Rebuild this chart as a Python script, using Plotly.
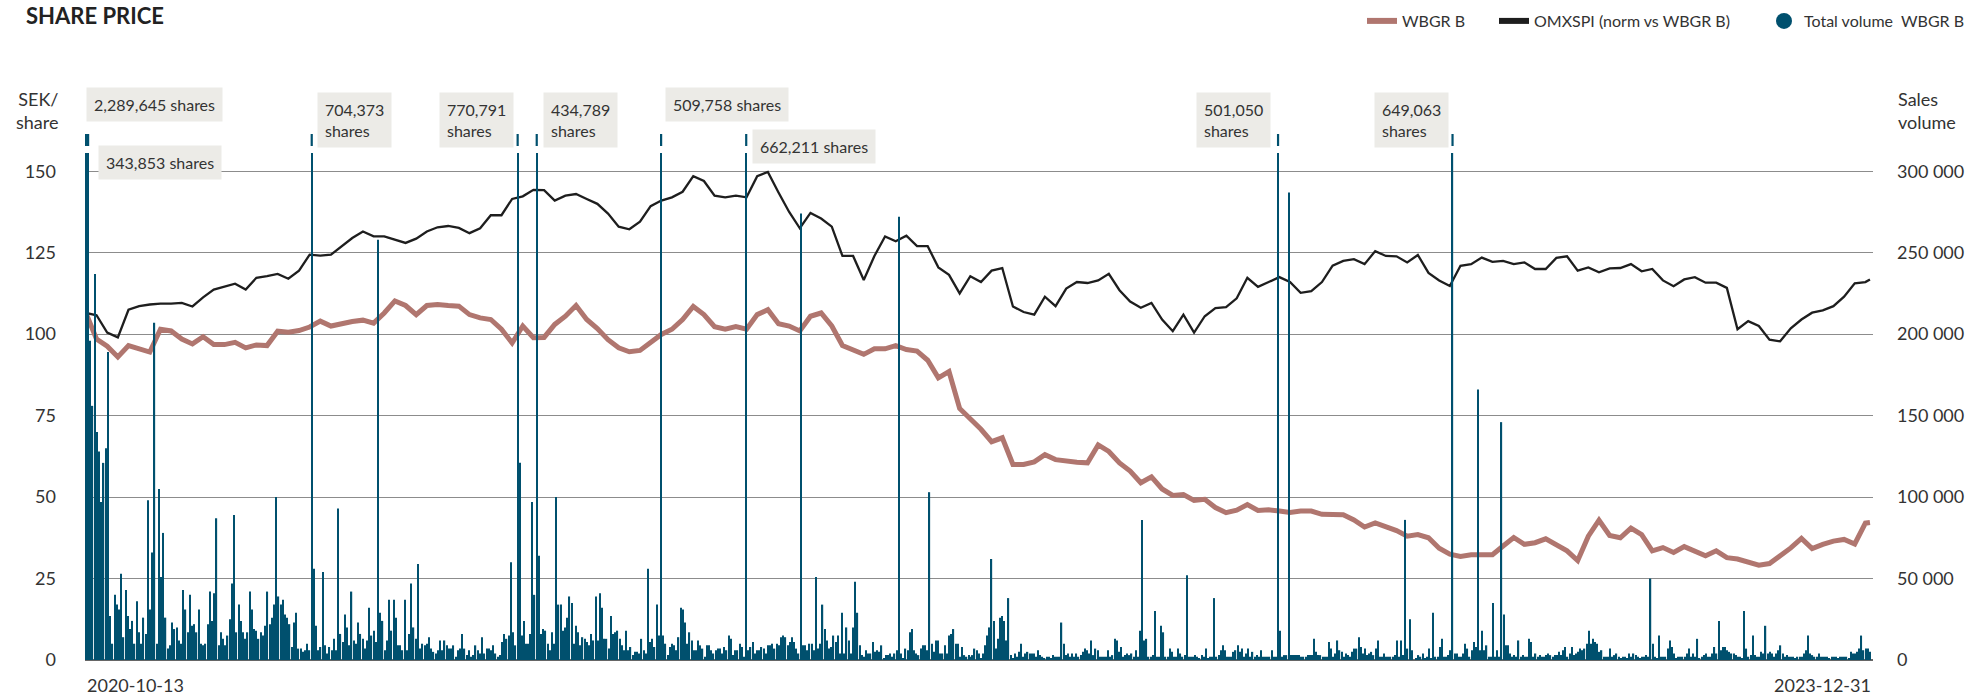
import pandas as pd
import plotly.graph_objects as go

# ------------------------------------------------------------------ data
price_first_date = "2020-10-13"
price_last_date = "2023-12-29"

# WBGR B closing price, SEK/share (weekly readings + last day)
wbgr_b = [
    106.5, 98.5, 96.3, 93.0, 96.5, 95.5, 94.5, 101.5, 101.0, 98.5,
    97.0, 99.2, 96.8, 96.8, 97.5, 95.8, 96.7, 96.5, 100.9, 100.6,
    101.1, 102.2, 104.0, 102.5, 103.3, 103.9, 104.3, 103.4, 106.5, 110.2,
    108.8, 106.0, 108.8, 109.1, 108.8, 108.6, 106.0, 105.0, 104.5, 101.5,
    97.3, 102.5, 98.9, 99.0, 103.0, 105.5, 108.8, 104.5, 101.7, 98.3,
    95.8, 94.6, 95.0, 97.5, 99.9, 101.5, 104.5, 108.5, 106.0, 102.3,
    101.5, 102.3, 101.5, 106.0, 107.5, 103.2, 102.5, 101.0, 105.5, 106.5,
    102.5, 96.5, 95.3, 93.8, 95.5, 95.5, 96.5, 95.3, 94.8, 92.0,
    86.6, 88.5, 77.2, 74.0, 70.8, 67.0, 68.2, 60.0, 60.0, 60.8,
    63.0, 61.5, 61.0, 60.7, 60.5, 66.0, 64.0, 60.5, 58.0, 54.4,
    56.2, 52.5, 50.5, 50.8, 49.0, 49.3, 46.8, 45.2, 46.0, 47.7,
    45.9, 46.1, 45.7, 45.3, 45.7, 45.7, 44.7, 44.7, 44.6, 43.0,
    40.8, 42.1, 41.0, 39.7, 38.0, 38.5, 37.5, 34.3, 32.5, 31.8,
    32.3, 32.3, 32.3, 35.0, 37.6, 35.5, 36.0, 37.2, 35.5, 33.5,
    30.5, 38.0, 42.9, 38.2, 37.5, 40.5, 38.5, 33.5, 34.5, 33.0,
    34.8, 33.5, 32.0, 33.5, 31.4, 31.0, 30.1, 29.1, 29.6, 31.8,
    34.4, 37.3, 34.2, 35.5, 36.5, 37.0, 35.6, 42.0, 42.2,
]

# OMXSPI normalised vs WBGR B
omxspi_norm = [
    106.5, 105.8, 100.5, 99.0, 107.5, 108.6, 109.1, 109.4, 109.4, 109.6,
    108.5, 111.3, 113.7, 114.7, 115.5, 113.7, 117.3, 117.8, 118.5, 117.0,
    119.5, 124.4, 124.1, 124.4, 127.0, 129.5, 131.5, 130.0, 130.0, 129.0,
    128.0, 129.3, 131.5, 132.8, 133.2, 132.6, 131.0, 132.5, 136.5, 136.5,
    141.5, 142.3, 144.3, 144.2, 141.0, 142.5, 143.0, 141.5, 140.0, 137.0,
    133.0, 132.2, 134.5, 139.3, 141.0, 142.0, 143.7, 148.5, 147.0, 142.5,
    142.0, 142.5, 142.0, 148.5, 149.8, 143.5, 137.5, 132.5, 137.2, 135.5,
    133.0, 124.0, 124.0, 116.6, 124.0, 130.0, 128.5, 130.2, 127.0, 127.0,
    120.5, 118.2, 112.5, 117.8, 116.0, 119.5, 120.3, 108.5, 106.8, 106.0,
    111.5, 108.6, 114.0, 116.0, 115.7, 116.5, 118.5, 113.5, 110.0, 108.1,
    109.6, 104.5, 100.9, 106.0, 100.5, 105.5, 108.0, 108.3, 111.0, 117.3,
    114.5, 116.0, 117.5, 116.0, 112.7, 113.2, 116.0, 121.0, 122.5, 123.0,
    121.5, 125.5, 124.0, 123.9, 122.0, 124.3, 118.8, 116.5, 114.8, 121.0,
    121.5, 123.5, 122.2, 122.5, 121.5, 122.0, 120.0, 120.0, 123.4, 123.9,
    119.5, 120.5, 119.0, 120.2, 120.3, 121.5, 119.3, 120.0, 116.5, 114.7,
    116.8, 117.5, 115.8, 115.8, 114.2, 101.5, 104.0, 102.5, 98.3, 97.8,
    101.8, 104.5, 106.6, 107.3, 108.6, 111.5, 115.6, 116.0, 116.8,
]

# Daily traded volume WBGR B, thousands of shares, in four date blocks
vol_block_starts = ["2020-10-13", "2021-07-29", "2022-05-17", "2023-03-06"]
vol_block_ends = ["2021-07-28", "2022-05-16", "2023-03-03", "2023-12-29"]
vol_a = [
    2289.645, 343.853, 196, 156, 237, 140, 128, 97, 121, 130, 189, 27, 10,
    40, 34, 31, 53, 14, 43, 27, 19, 24, 10, 36, 17, 10, 26, 16, 98, 31, 66, 207, 10,
    105, 51, 78, 26, 7, 9, 23, 19, 20, 12, 10, 43, 31, 17, 40, 21, 22, 17, 31,
    10, 9, 10, 22, 42, 24, 41, 87, 9, 17, 13, 9, 15, 25, 47, 89, 17, 34, 24, 17,
    13, 17, 42, 31, 19, 18, 13, 17, 15, 21, 42, 22, 26, 34, 100, 39, 34, 37, 28, 26,
    22, 8, 23, 29, 7, 7, 5, 6, 10, 6, 704.373, 56, 21, 6, 8, 54, 9, 4, 8, 6,
    13, 6, 93, 16, 11, 28, 20, 9, 42, 12, 10, 23, 16, 13, 7, 12, 32, 15, 18,
    11, 258, 29, 24, 6, 12, 37, 18, 37, 26, 9, 9, 6, 37, 6, 16, 47, 20, 13, 59,
    7, 10, 9, 10, 14, 7, 5, 4, 6, 12, 6, 12, 9, 7, 7, 9, 2, 6, 7,
    16, 7, 3, 6, 2, 3, 9, 6, 4, 14, 4, 7, 7, 6, 9, 4, 2, 3, 11, 16,
    13, 15, 60, 17, 9, 770.791, 121, 15, 24,
]
vol_b = [
    10, 10, 16, 97, 40, 434.789, 64, 16, 19, 18,
    10, 6, 17, 10, 100, 34, 34, 18, 20, 26,
    39, 35, 10, 21, 17, 9, 14, 13, 11, 9,
    16, 12, 39, 12, 41, 32, 13, 13, 7, 27,
    16, 17, 18, 13, 9, 6, 18, 6, 8, 3,
    5, 5, 4, 13, 6, 4, 56, 11, 13, 8,
    34, 15, 509.758, 15, 10, 3, 8, 10, 9, 6,
    14, 32, 31, 23, 10, 17, 12, 6, 6, 12,
    9, 7, 2, 9, 9, 6, 4, 6, 7, 7,
    4, 8, 6, 15, 13, 3, 6, 6, 10, 8,
    2, 662.211, 6, 8, 11, 4, 6, 6, 8, 7,
    4, 9, 9, 10, 7, 10, 9, 14, 15, 14,
    9, 11, 14, 11, 7, 4, 274, 9, 9, 6,
    10, 10, 6, 51, 7, 10, 34, 19, 12, 7,
    8, 15, 11, 15, 4, 29, 4, 20, 12, 4,
    20, 48, 29, 9, 3, 2, 6, 4, 4, 11,
    5, 6, 5, 9, 1, 3, 3, 4, 2, 4,
    6, 272, 4, 1, 7, 6, 17, 19, 6, 4,
    3, 7, 9, 9, 6, 103, 10, 5, 12, 12,
    4, 4, 9, 4, 15, 16, 19, 10, 10, 2,
    8, 3, 2, 3,
]
vol_c = [
    2, 3, 7, 6, 4, 1, 4, 9, 15, 20, 62, 24, 7,
    13, 26, 27, 24, 12, 38, 3, 1, 4, 2, 5, 10, 2,
    4, 5, 4, 4, 4, 2, 6, 3, 2, 1, 2, 2, 1, 3, 2,
    2, 2, 23, 10, 3, 4, 2, 4, 2, 4, 2, 3, 5, 7, 6,
    4, 12, 3, 7, 6, 2, 2, 2, 2, 6, 2, 3, 13, 12, 5,
    8, 2, 3, 4, 3, 4, 2, 6, 2, 18, 86, 12, 13, 2, 2,
    3, 30, 2, 2, 21, 17, 2, 2, 7, 5, 2, 2, 7, 4, 2,
    3, 52, 2, 2, 2, 3, 2, 1, 3, 2, 7, 1, 2, 2, 38,
    2, 3, 6, 9, 6, 2, 2, 2, 5, 6, 9, 5, 7, 2, 4,
    7, 2, 5, 2, 3, 2, 6, 2, 2, 2, 2, 6, 2, 2, 501.050,
    18, 2, 3, 3, 287, 3, 3, 3, 3, 3, 2, 2, 2, 3, 3,
    3, 13, 5, 3, 3, 2, 2, 2, 11, 7, 2, 4, 12, 6, 5,
    2, 4, 3, 2, 5, 7, 7, 14, 8, 4, 7, 3, 4, 5, 3,
    7, 12, 2, 2, 4, 2, 2, 2, 2, 3, 12, 2, 12, 3, 86,
    7, 25, 6,
]
vol_d = [
    1, 3, 2, 4, 1, 2, 7, 1, 29, 2, 2, 8, 13, 2, 2, 3,
    6, 649.063, 4, 4, 2, 2, 4, 10, 7, 2, 6, 11, 8,
    166, 6, 18, 6, 9, 2, 2, 35, 2, 6, 2, 146,
    28, 9, 9, 4, 2, 3, 2, 12, 2, 3, 2, 2, 13, 11, 2,
    4, 2, 3, 2, 2, 3, 4, 3, 2, 3, 3, 5, 3, 6, 8,
    2, 4, 8, 3, 4, 5, 7, 6, 7, 10, 18, 10, 13, 11, 10,
    5, 6, 2, 2, 2, 7, 2, 3, 4, 2, 1, 2, 2, 1, 4,
    2, 4, 3, 2, 1, 2, 2, 3, 2, 50, 10, 2, 1,
    15, 2, 2, 2, 7, 12, 8, 4, 1, 2, 2, 2, 2, 4, 7,
    2, 4, 2, 13, 1, 2, 3, 4, 2, 2, 4, 8, 4, 24, 6,
    8, 8, 6, 5, 4, 4, 3, 2, 2, 1, 30, 7, 2, 3, 15,
    3, 2, 2, 5, 4, 21, 4, 5, 4, 2, 4, 6, 9, 4, 2, 3,
    2, 2, 2, 1, 2, 2, 2, 4, 6, 15, 4, 3, 2, 2, 4,
    2, 2, 2, 2, 1, 2, 2, 2, 1, 2, 2, 2, 2, 1, 5,
    4, 4, 5, 7, 15, 6, 7, 7, 5,
]

left_tick_vals = [0, 25, 50, 75, 100, 125, 150]
right_tick_vals = [0, 50000, 100000, 150000, 200000, 250000, 300000]
right_tick_text = ["0", "50 000", "100 000", "150 000", "200 000", "250 000", "300 000"]
axis_start_label = "2020-10-13"
axis_end_label = "2023-12-31"
series_names = ["WBGR B", "OMXSPI (norm vs WBGR B)", "Total volume\u2002WBGR B"]

# ------------------------------------------------------------------ styling / geometry
W, H = 1975, 696
ML, MR, MT, MB = 85, 102, 153, 36
PH = H - MT - MB
PW = W - ML - MR
Y_MAX = 155.6
FONT = "Lato, 'Open Sans', sans-serif"
TXT = "#333333"
BROWN = "#b0766f"
BLACK = "#1e1e1e"
BLUE = "#00506e"
BOXBG = "#ecebe7"


def ypaper(ypx):
    return (H - MB - ypx) / PH


def xpaper(xpx):
    return (xpx - ML) / PW


price_dates = list(pd.date_range(price_first_date, periods=len(wbgr_b) - 1, freq="7D")) + [
    pd.Timestamp(price_last_date)
]

vol_blocks = [vol_a, vol_b, vol_c, vol_d]
vol_dates = []
vol_shares = []
for s, e, blk in zip(vol_block_starts, vol_block_ends, vol_blocks):
    vol_dates += list(pd.date_range(s, e, periods=len(blk)))
    vol_shares += [round(v * 1000) for v in blk]

fig = go.Figure()

# legend-only entries, each in its own legend box so they can be spaced like the reference
legend_x_px = [1362, 1494, 1764]
fig.add_trace(go.Scatter(x=[None], y=[None], mode="lines", name=series_names[0],
                         line=dict(color=BROWN, width=6), legend="legend"))
fig.add_trace(go.Scatter(x=[None], y=[None], mode="lines", name=series_names[1],
                         line=dict(color=BLACK, width=6), legend="legend2"))
fig.add_trace(go.Scatter(x=[None], y=[None], mode="markers", name=series_names[2],
                         marker=dict(color=BLUE, size=22, symbol="circle"), legend="legend3"))

fig.add_trace(go.Scatter(x=price_dates, y=wbgr_b, mode="lines", showlegend=False,
                         line=dict(color=BROWN, width=5), yaxis="y"))
fig.add_trace(go.Scatter(x=price_dates, y=omxspi_norm, mode="lines", showlegend=False,
                         line=dict(color=BLACK, width=2.3), yaxis="y"))
fig.add_trace(go.Bar(x=vol_dates, y=vol_shares, showlegend=False,
                     marker=dict(color=BLUE, line=dict(width=0)), yaxis="y2"))

# callouts for bars exceeding the axis
y2_max = Y_MAX * 2000
callout_style = [
    # (two lines, xanchor, xshift, centre y px)
    (False, "left", 0, 105),
    (False, "left", 10, 162),
    (True, "left", 5, 120),
    (True, "right", -4, 120),
    (True, "left", 6, 120),
    (False, "left", 4, 105),
    (False, "left", 6, 147),
    (True, "right", -7, 120),
    (True, "right", -4, 120),
]
big = [(d, v) for d, v in zip(vol_dates, vol_shares) if v > y2_max]
shapes = []
annotations = []
for (d, v), (two, xa, xs, yc) in zip(big, callout_style):
    label = f"{v:,} shares"
    if two:
        label = label.replace(" ", "<br>")
    annotations.append(dict(
        x=d, xref="x", y=ypaper(yc), yref="paper", text=label, showarrow=False,
        xanchor=xa, yanchor="middle", xshift=xs, align="left",
        bgcolor=BOXBG, borderpad=7, font=dict(family=FONT, size=16, color=TXT),
    ))
    shapes.append(dict(type="line", xref="x", yref="paper", x0=d, x1=d,
                       y0=ypaper(146), y1=ypaper(134),
                       line=dict(color=BLUE, width=2.2)))

annotations += [
    dict(text="<b>SHARE PRICE</b>", x=xpaper(24), y=ypaper(16), xref="paper", yref="paper",
         xanchor="left", yanchor="middle", showarrow=False,
         font=dict(family=FONT, size=22, color="#222222")),
    dict(text="SEK/<br>share", x=xpaper(60), y=ypaper(110), xref="paper", yref="paper",
         xanchor="right", yanchor="middle", align="right", showarrow=False,
         font=dict(family=FONT, size=18, color=TXT)),
    dict(text="Sales<br>volume", x=xpaper(1896), y=ypaper(110), xref="paper", yref="paper",
         xanchor="left", yanchor="middle", align="left", showarrow=False,
         font=dict(family=FONT, size=18, color=TXT)),
    dict(text=axis_start_label, x=0, y=ypaper(685), xref="paper", yref="paper",
         xanchor="left", yanchor="middle", showarrow=False,
         font=dict(family=FONT, size=18, color=TXT)),
    dict(text=axis_end_label, x=1, y=ypaper(685), xref="paper", yref="paper",
         xanchor="right", yanchor="middle", showarrow=False,
         font=dict(family=FONT, size=18, color=TXT)),
]

legend_common = dict(orientation="h", xanchor="left", y=ypaper(21), yanchor="middle",
                     font=dict(family=FONT, size=16, color=TXT), bgcolor="rgba(0,0,0,0)",
                     itemsizing="trace")

fig.update_layout(
    width=W, height=H,
    margin=dict(l=ML, r=MR, t=MT, b=MB, autoexpand=False),
    paper_bgcolor="white", plot_bgcolor="white",
    font=dict(family=FONT, size=18, color=TXT),
    bargap=0.18,
    showlegend=True,
    hovermode=False,
    legend=dict(x=xpaper(legend_x_px[0]), **legend_common),
    legend2=dict(x=xpaper(legend_x_px[1]), **legend_common),
    legend3=dict(x=xpaper(legend_x_px[2]), **legend_common),
    xaxis=dict(type="date", range=["2020-10-12 10:00", "2023-12-31"], showgrid=False,
               showticklabels=False, zeroline=False, showline=False, ticks=""),
    yaxis=dict(range=[0, Y_MAX], tickvals=left_tick_vals, showgrid=True,
               gridcolor="#8c8c8c", gridwidth=1, zeroline=True, zerolinecolor="#666666",
               zerolinewidth=1.5, ticks="", ticklabelstandoff=28,
               tickfont=dict(family=FONT, size=18, color=TXT)),
    yaxis2=dict(range=[0, y2_max], overlaying="y", side="right", tickvals=right_tick_vals,
                ticktext=right_tick_text, showgrid=False, zeroline=False, ticks="",
                ticklabelstandoff=23, tickfont=dict(family=FONT, size=18, color=TXT)),
    shapes=shapes,
    annotations=annotations,
)

fig.write_html("out.html", config={"displayModeBar": False},
               post_script="document.body.style.margin='0';document.body.style.overflow='hidden';")
